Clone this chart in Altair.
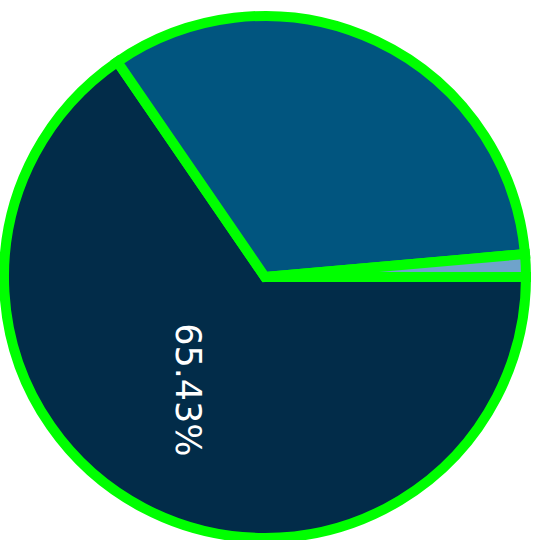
import math
import altair as alt
import pandas as pd

categories = ["A", "B", "C"]
values = [65.43, 33.17, 1.4]
colors = ["#022c49", "#01557f", "#6fa3cb"]
labels = ["65.43%", "", ""]

df = pd.DataFrame({
    "cat": categories,
    "value": values,
    "label": labels,
    "order": [0, 1, 2],
})

start = math.pi / 2
theta_scale = alt.Scale(range=[start, start + 2 * math.pi])

base = alt.Chart(df).encode(
    theta=alt.Theta("value:Q", stack=True, scale=theta_scale),
    order=alt.Order("order:Q"),
    x=alt.value(265),
    y=alt.value(277),
)

arcs = base.mark_arc(radius=261, stroke="#00ff00", strokeWidth=10).encode(
    color=alt.Color("cat:N", scale=alt.Scale(domain=categories, range=colors), legend=None),
)

text = base.mark_text(
    radius=140, angle=90, fontSize=35, font="DejaVu Sans",
    color="white", align="center", baseline="middle", dx=-11, dy=13,
).encode(text="label:N")

chart = (arcs + text).properties(
    width=541, height=540,
    autosize=alt.AutoSizeParams(type="none"),
    padding=0,
).configure_view(stroke=None)

chart.save("out.html", embed_options={"renderer": "svg", "actions": False})
